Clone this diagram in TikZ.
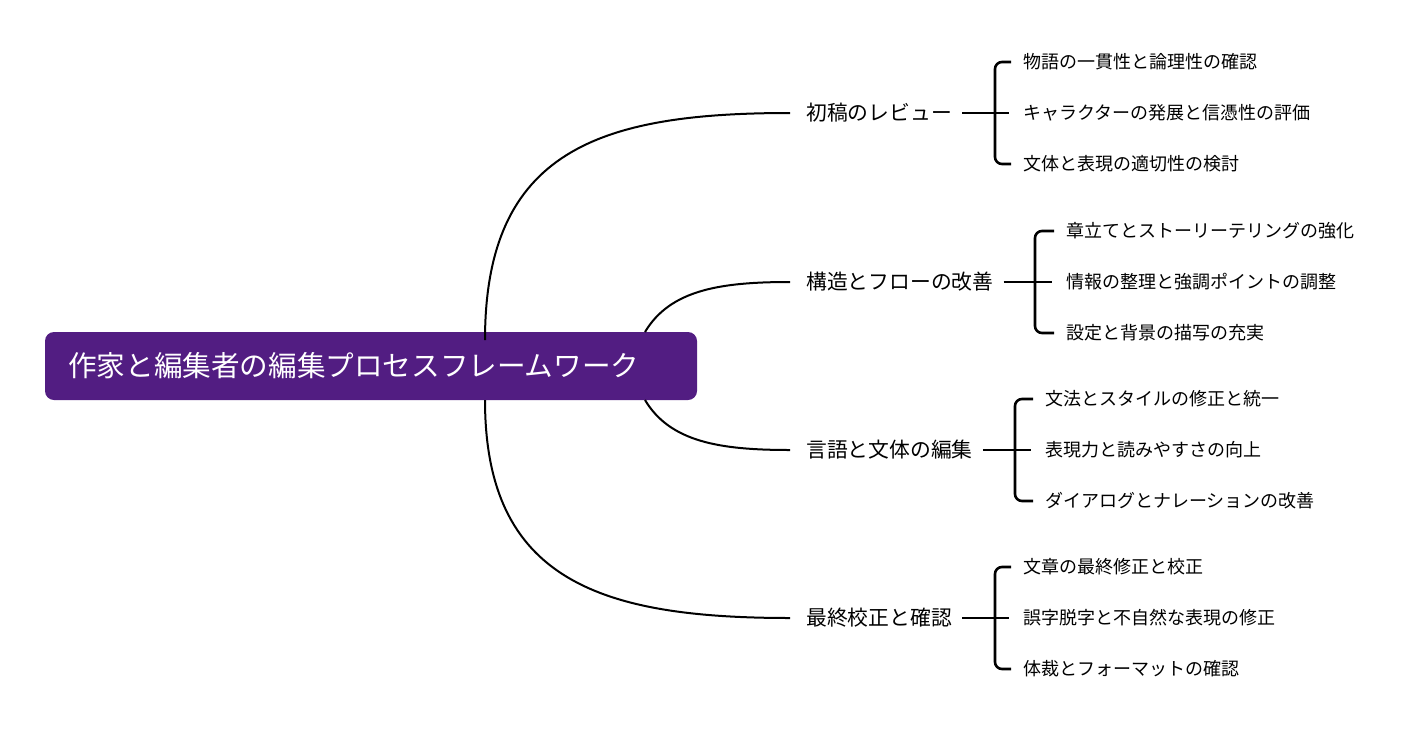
\documentclass[tikz,border=0pt]{standalone}
\usepackage{fontspec}
\setmainfont{Noto Sans CJK JP}
\definecolor{rootc}{HTML}{521D82}
\begin{document}
\begin{tikzpicture}[x=1pt,y=-1pt,
  conn/.style={line width=2pt,black},
  br/.style={line width=2.6pt,black,rounded corners=7pt},
  lvl1/.style={anchor=west,inner sep=0pt,font=\fontsize{20.8}{21}\selectfont},
  lvl2/.style={anchor=west,inner sep=0pt,font=\fontsize{18}{18}\selectfont}]
\useasboundingbox (0,0) rectangle (1416,747);
\node[fill=rootc,rounded corners=9pt,minimum width=652pt,minimum height=68pt,inner sep=0pt] (root) at (371,366) {};
\node[anchor=west,text=white,font=\fontsize{28.6}{29}\selectfont,inner sep=0pt] (rt) at (68,366) {作家と編集者の編集プロセスフレームワーク};
\coordinate (s1) at (485,340);
\coordinate (s2) at (645,332);
\coordinate (s3) at (645,400);
\coordinate (s4) at (485,400);
\node[lvl1] (b1) at (806,113) {初稿のレビュー};
\node[lvl1] (b2) at (806,282) {構造とフローの改善};
\node[lvl1] (b3) at (806,450) {言語と文体の編集};
\node[lvl1] (b4) at (806,618) {最終校正と確認};
\draw[conn] (s1) .. controls (485,150) and (600,113) .. (790,113);
\draw[conn] (s2) .. controls (670,290) and (720,282) .. (790,282);
\draw[conn] (s3) .. controls (670,442) and (720,450) .. (790,450);
\draw[conn] (s4) .. controls (485,580) and (600,618) .. (790,618);
\foreach \b/\y/\bx/\cx/\ta/\tb/\tc in {
 1/113/995/1023/物語の一貫性と論理性の確認/キャラクターの発展と信憑性の評価/文体と表現の適切性の検討,
 2/282/1035/1066/章立てとストーリーテリングの強化/情報の整理と強調ポイントの調整/設定と背景の描写の充実,
 3/450/1015/1045/文法とスタイルの修正と統一/表現力と読みやすさの向上/ダイアログとナレーションの改善,
 4/618/995/1023/文章の最終修正と校正/誤字脱字と不自然な表現の修正/体裁とフォーマットの確認}{
  \node[lvl2] (c\b a) at (\cx,\y-51) {\ta};
  \node[lvl2] (c\b b) at (\cx,\y) {\tb};
  \node[lvl2] (c\b c) at (\cx,\y+51) {\tc};
  \draw[br] ([xshift=10pt]b\b.east) -- ([xshift=-14pt]c\b b.west);
  \draw[br] ([xshift=-12pt]c\b a.west) -- (\bx,\y-51) -- (\bx,\y+51) -- ([xshift=-12pt]c\b c.west);
}
\end{tikzpicture}
\end{document}
